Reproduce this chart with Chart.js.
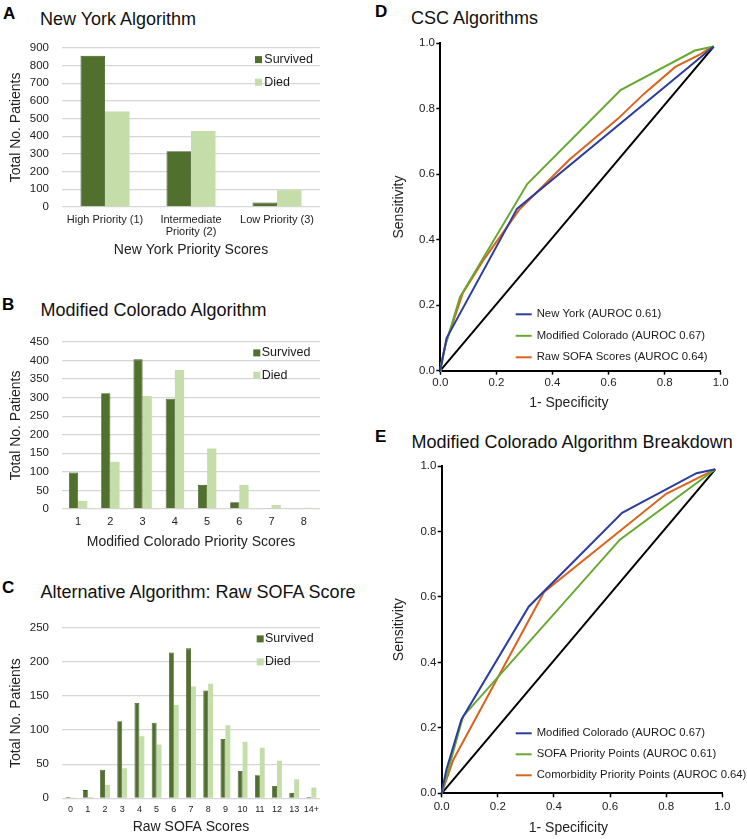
<!DOCTYPE html>
<html><head><meta charset="utf-8">
<script src="https://cdn.jsdelivr.net/npm/chart.js@4/dist/chart.umd.min.js"></script>
<style>
html,body{margin:0;padding:0;background:#fff;}
body{width:747px;height:839px;position:relative;overflow:hidden;font-family:"Liberation Sans",Arial,Helvetica,sans-serif;color:#111;}
canvas{position:absolute;}
.lt{position:absolute;font-weight:bold;font-size:17px;line-height:17px;color:#000;}
.tt{position:absolute;font-size:18px;line-height:18px;white-space:nowrap;color:#111;}
</style></head><body>
<div class="lt" style="left:3px;top:4.5px">A</div>
<div class="tt" style="left:40px;top:10px">New York Algorithm</div>
<div class="lt" style="left:2px;top:295.5px">B</div>
<div class="tt" style="left:40.5px;top:301px">Modified Colorado Algorithm</div>
<div class="lt" style="left:2px;top:579px">C</div>
<div class="tt" style="left:40.5px;top:583.3px">Alternative Algorithm: Raw SOFA Score</div>
<div class="lt" style="left:375px;top:2.5px">D</div>
<div class="tt" style="left:411px;top:9.3px">CSC Algorithms</div>
<div class="lt" style="left:375px;top:427.5px">E</div>
<div class="tt" style="left:411.5px;top:432.7px">Modified Colorado Algorithm Breakdown</div>

<canvas id="cA" width="330" height="236" style="left:0px;top:28px"></canvas>
<canvas id="cB" width="330" height="235" style="left:0px;top:322px"></canvas>
<canvas id="cC" width="330" height="231" style="left:0px;top:608px"></canvas>
<canvas id="cD" width="377" height="392" style="left:370px;top:28px"></canvas>
<canvas id="cE" width="377" height="387" style="left:370px;top:452px"></canvas>

<script>
// ---------- data ----------
const nyCategories = ['High Priority (1)', ['Intermediate', 'Priority (2)'], 'Low Priority (3)'];
const nySurvived = [855, 315, 25];
const nyDied = [540, 430, 95];

const coCategories = ['1', '2', '3', '4', '5', '6', '7', '8'];
const coSurvived = [98, 312, 403, 297, 65, 18, 3, 0];
const coDied = [22, 127, 304, 374, 163, 65, 11, 3];

const sofaCategories = ['0', '1', '2', '3', '4', '5', '6', '7', '8', '9', '10', '11', '12', '13', '14+'];
const sofaSurvived = [2, 12, 42, 113, 140, 111, 214, 220, 158, 87, 40, 34, 18, 8, 2];
const sofaDied = [1, 2, 20, 44, 91, 79, 137, 164, 168, 107, 83, 74, 55, 28, 16];

const yTicksA = [0, 900, 100];   // min, max, step
const yTicksB = [0, 450, 50];
const yTicksC = [0, 250, 50];

// ROC curves (1 - specificity, sensitivity)
const rocNyX = [0, 0.022, 0.274, 0.975];
const rocNyY = [0, 0.099, 0.495, 0.99];
const rocCoX = [0, 0.002, 0.017, 0.070, 0.310, 0.643, 0.908, 0.975];
const rocCoY = [0, 0.013, 0.073, 0.225, 0.570, 0.857, 0.978, 0.99];
const rocSofaX = [0, 0.002, 0.008, 0.022, 0.050, 0.080, 0.153, 0.282, 0.460, 0.634, 0.724, 0.838, 0.930, 0.963, 0.975];
const rocSofaY = [0, 0.015, 0.040, 0.092, 0.160, 0.237, 0.337, 0.492, 0.644, 0.770, 0.844, 0.928, 0.968, 0.987, 0.99];
const rocSofaPtsX = [0, 0.076, 0.635, 0.975];
const rocSofaPtsY = [0, 0.235, 0.775, 0.99];
const rocComorbX = [0, 0.041, 0.365, 0.800, 0.975];
const rocComorbY = [0, 0.102, 0.615, 0.915, 0.99];
const rocRefX = [0, 0.975];
const rocRefY = [0, 0.99];

const rocLabelsD = ['New York (AUROC 0.61)', 'Modified Colorado (AUROC 0.67)', 'Raw SOFA Scores (AUROC 0.64)'];
const rocLabelsE = ['Modified Colorado (AUROC 0.67)', 'SOFA Priority Points (AUROC 0.61)', 'Comorbidity Priority Points (AUROC 0.64)'];

// ---------- setup ----------
const FONT = '"Liberation Sans", Arial, Helvetica, sans-serif';
Chart.defaults.font.family = FONT;
Chart.defaults.color = '#1a1a1a';
Chart.defaults.animation = false;
Chart.defaults.plugins.legend.display = false;
Chart.defaults.plugins.tooltip.enabled = false;

const DARK = '#52702d', DARK_EDGE = '#3f5a21', LIGHT = '#c4dda9';
const BLUE = '#2c3d9e', GREEN = '#67a830', ORANGE = '#d8641e';

const pts = (xs, ys) => xs.map((x, i) => ({x: x, y: ys[i]}));

// legend drawn inside the plot area, from the datasets' own labels/colours
const insideLegend = {
  id: 'insideLegend',
  afterDraw(chart, args, o) {
    if (!o || !o.display) return;
    const {ctx, chartArea} = chart;
    ctx.save();
    ctx.font = o.fontSize + 'px ' + FONT;
    ctx.textBaseline = 'middle';
    ctx.textAlign = 'left';
    let i = 0;
    chart.data.datasets.forEach(ds => {
      if (ds.legendSkip) return;
      const y = chartArea.top + o.dy + i * o.gap;
      const col = o.kind === 'line' ? ds.borderColor : ds.backgroundColor;
      if (o.kind === 'box') {
        const x0 = chartArea.right + o.dxBox;
        ctx.fillStyle = col;
        ctx.fillRect(x0, y - o.box / 2, o.box, o.box);
        ctx.fillStyle = '#1a1a1a';
        ctx.fillText(ds.label, chartArea.right + o.dxText, y);
      } else {
        const x0 = chartArea.left + o.dxLine;
        ctx.strokeStyle = col;
        ctx.lineWidth = 2;
        ctx.beginPath();
        ctx.moveTo(x0, y); ctx.lineTo(x0 + o.lineLen, y);
        ctx.stroke();
        ctx.fillStyle = '#1a1a1a';
        ctx.fillText(ds.label, x0 + o.lineLen + o.textGap, y);
      }
      i++;
    });
    ctx.restore();
  }
};

function barChart(id, labels, surv, died, yt, cfg) {
  return new Chart(document.getElementById(id), {
    type: 'bar',
    data: {
      labels: labels,
      datasets: [
        {label: 'Survived', data: surv, backgroundColor: DARK, borderColor: DARK_EDGE, borderWidth: 0.8,
         categoryPercentage: 0.57, barPercentage: 1},
        {label: 'Died', data: died, backgroundColor: LIGHT, borderWidth: 0,
         categoryPercentage: 0.57, barPercentage: 1}
      ]
    },
    options: {
      responsive: false, devicePixelRatio: 1, animation: false,
      layout: {padding: {left: 0, right: cfg.padR, top: cfg.padT, bottom: 0}},
      scales: {
        x: {
          grid: {display: false, drawTicks: false}, border: {display: false},
          ticks: {autoSkip: false, maxRotation: 0, padding: cfg.xTickPad,
                  font: {size: cfg.xTickSize, lineHeight: 1.05}, color: '#222'},
          title: {display: true, text: cfg.xTitle, font: {size: 14}, color: '#222',
                  padding: {top: 0, bottom: cfg.xTitlePad}},
          afterFit(s) { s.height = cfg.xH; }
        },
        y: {
          min: yt[0], max: yt[1],
          grid: {color: '#d6d6d6', lineWidth: 1.3, drawTicks: false},
          border: {display: false},
          ticks: {stepSize: yt[2], padding: 13, font: {size: 11.5}, color: '#222'},
          title: {display: true, text: 'Total No. Patients', font: {size: 14}, color: '#222',
                  padding: {top: 8.2, bottom: 0}},
          afterFit(s) { s.width = 62; }
        }
      },
      plugins: {
        insideLegend: {display: true, kind: 'box', fontSize: 12.5, box: 7,
                       dxBox: cfg.dxBox, dxText: cfg.dxText, dy: cfg.dy, gap: cfg.gap}
      }
    },
    plugins: [insideLegend]
  });
}

barChart('cA', nyCategories, nySurvived, nyDied, yTicksA,
  {padR: 10, padT: 16, xH: 57, xTickPad: 7.2, xTickSize: 11, xTitle: 'New York Priority Scores', xTitlePad: 5.6,
   dxBox: -65, dxText: -55.7, dy: 11.7, gap: 22.6});
barChart('cB', coCategories, coSurvived, coDied, yTicksB,
  {padR: 10, padT: 13.7, xH: 48, xTickPad: 7.4, xTickSize: 11, xTitle: 'Modified Colorado Priority Scores', xTitlePad: 6.9,
   dxBox: -66.7, dxText: -58.3, dy: 11, gap: 22.3});
barChart('cC', sofaCategories, sofaSurvived, sofaDied, yTicksC,
  {padR: 10, padT: 13, xH: 40.7, xTickPad: 6.3, xTickSize: 9, xTitle: 'Raw SOFA Scores', xTitlePad: 3.9,
   dxBox: -63.3, dxText: -55, dy: 11, gap: 23});

function rocChart(id, series, cfg) {
  const datasets = series.map(s => ({
    label: s.label, data: s.data, borderColor: s.color, backgroundColor: s.color,
    borderWidth: 2, pointRadius: 0, showLine: true, tension: 0, legendSkip: !!s.skip, clip: 4
  }));
  const axis = (title, tickPad, titlePad) => ({
    type: 'linear', min: 0, max: 1,
    grid: {drawOnChartArea: false, drawTicks: true, tickLength: 4, tickWidth: 1.5, tickColor: '#000'},
    border: {display: true, color: '#000', width: 2},
    ticks: {stepSize: 0.2, padding: tickPad, font: {size: 11.5}, color: '#222',
            callback: v => Number(v).toFixed(1)},
    title: {display: true, text: title, font: {size: 14}, color: '#222', padding: titlePad}
  });
  // trailing spaces nudge the centred axis title left, as in the reference
  const x = axis('1- Specificity' + ' '.repeat(cfg.xTitleShift), cfg.xTickPad, {top: 0, bottom: cfg.xTitlePad});
  x.afterFit = s => { s.height = cfg.xH; };
  const y = axis('Sensitivity', 1.3, {top: 20.6, bottom: 0});
  y.afterFit = s => { s.width = cfg.yW; };
  return new Chart(document.getElementById(id), {
    type: 'scatter',
    data: {datasets: datasets},
    options: {
      responsive: false, devicePixelRatio: 1, animation: false,
      layout: {padding: {left: 0, right: cfg.padR, top: cfg.padT, bottom: 0}},
      scales: {x: x, y: y},
      plugins: {
        insideLegend: {display: true, kind: 'line', fontSize: 11.3, lineLen: 16, textGap: 5,
                       dxLine: cfg.dxLine, dy: cfg.dy, gap: cfg.gap}
      }
    },
    plugins: [insideLegend]
  });
}

rocChart('cD', [
  {label: rocLabelsD[0], data: pts(rocNyX, rocNyY), color: BLUE},
  {label: rocLabelsD[1], data: pts(rocCoX, rocCoY), color: GREEN},
  {label: rocLabelsD[2], data: pts(rocSofaX, rocSofaY), color: ORANGE},
  {label: 'Reference', data: pts(rocRefX, rocRefY), color: '#000', skip: true}
], {padR: 26.3, padT: 15.3, xH: 49.3, yW: 70.3, xTickPad: 1.4, xTitlePad: 8.3, xTitleShift: 6,
    dxLine: 75.4, dy: 271, gap: 21.5});

rocChart('cE', [
  {label: rocLabelsE[0], data: pts(rocCoX, rocCoY), color: BLUE},
  {label: rocLabelsE[1], data: pts(rocSofaPtsX, rocSofaPtsY), color: GREEN},
  {label: rocLabelsE[2], data: pts(rocComorbX, rocComorbY), color: ORANGE},
  {label: 'Reference', data: pts(rocRefX, rocRefY), color: '#000', skip: true}
], {padR: 24.7, padT: 14, xH: 45.7, yW: 71.7, xTickPad: 2.5, xTitlePad: 2.6, xTitleShift: 7,
    dxLine: 74, dy: 267.3, gap: 21});
</script>
</body></html>
